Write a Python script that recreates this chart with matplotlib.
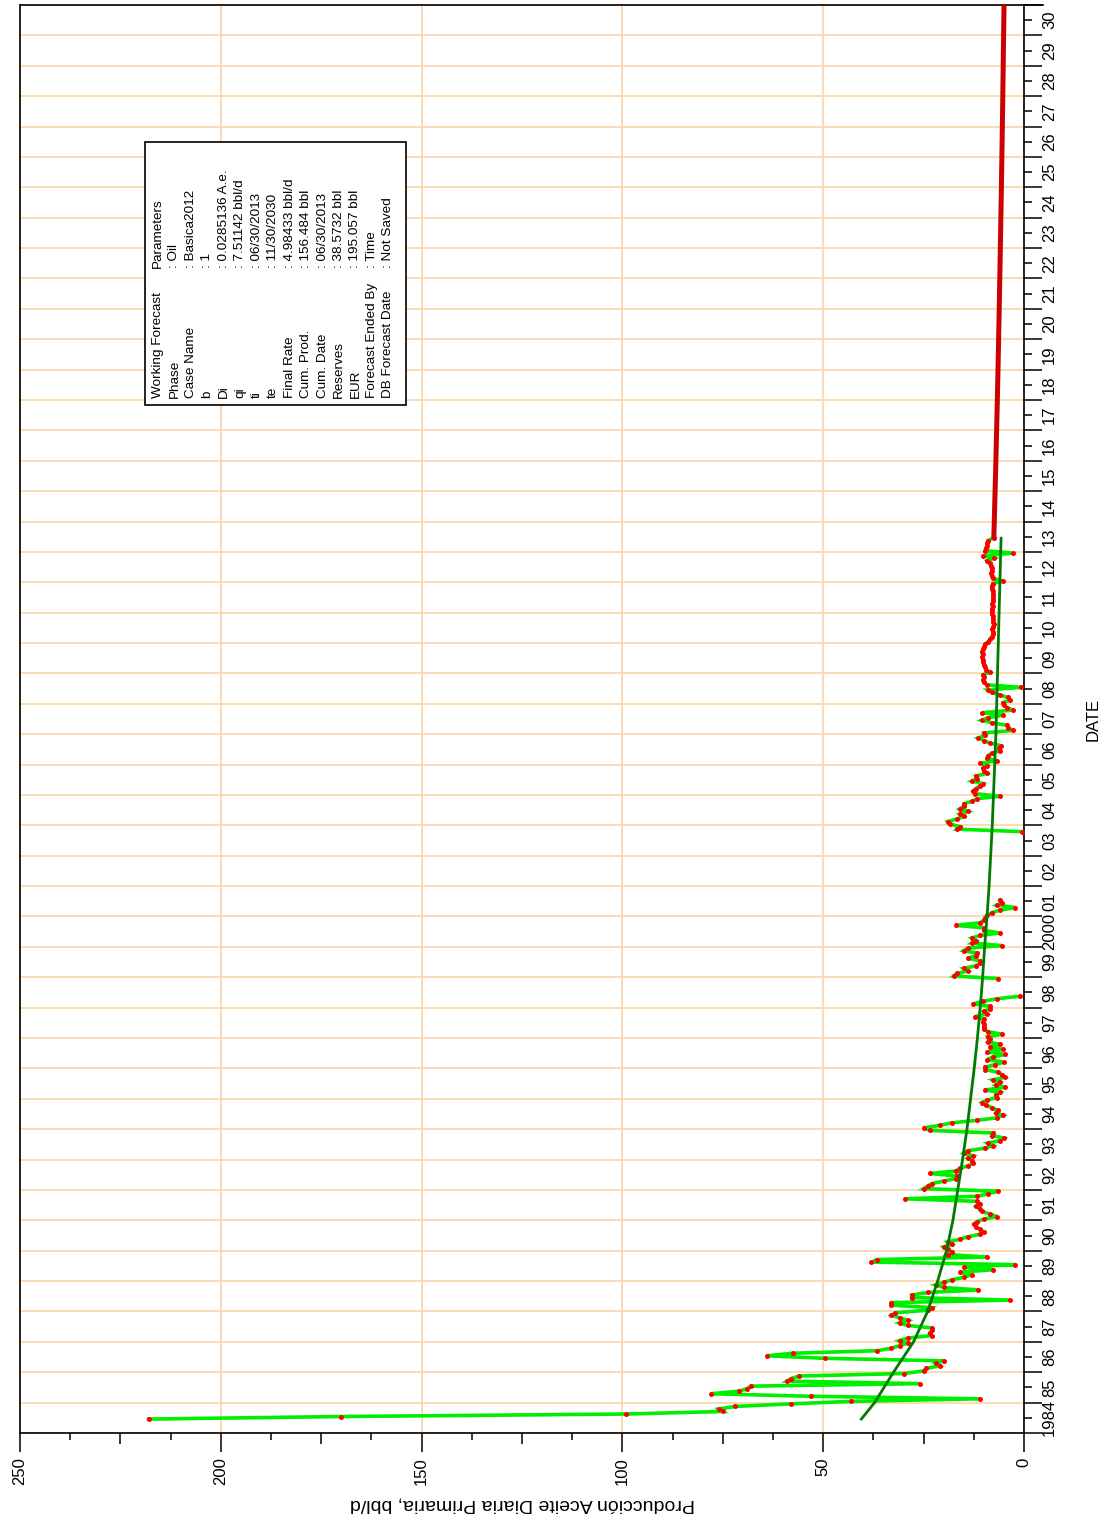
"""Oil rate history, decline fit and forecast (rotated layout, date on the vertical axis)."""
import matplotlib

matplotlib.use("Agg")
import matplotlib.pyplot as plt
import numpy as np
from matplotlib.patches import Rectangle
from matplotlib.ticker import FixedFormatter, FixedLocator, MultipleLocator, NullFormatter

plt.rcParams["font.family"] = ["Liberation Sans", "DejaVu Sans"]

# monthly oil rate, bbl/d, starting June 1984 (None = no data)
FIRST_YEAR, FIRST_MONTH = 1984, 6
oil_rate = [
    218, 170, 99, 75, 76, 72, 58,                                   # 1984 (Jun-Dec)
    43, 11, 53, 78, 71, 69, 68, 26, 59, 58, 56, 30,                 # 1985
    25, 24.4, 21, 22, 20, 49.6, 64, 57.5, 36.6, 33, 31, 29,         # 1986
    31, 29, 23, 23.5, 22.8, 23, 29, 31, 29, 31, 33, 32,             # 1987
    24, 23, 33, 33, 3.5, 28, 28, 24, 11.4, 20, 22, 20,              # 1988
    18, 15, 13, 16, 7.7, 15, 2.2, 38, 36.6, 9.2, 19, 18,            # 1989
    19, 20, 18, 19, 16, 14, 11, 10, 11, 12, 12.5, 11.7,             # 1990
    10, 6.7, 8.5, 10.5, 11, 12, 11, 11.7, 29.6, 11.7, 9, 6.5,       # 1991
    25, 24, 23, 20, 17, 16.7, 23.4, 17, 16, 14, 12.7, 13,           # 1992
    14, 12.7, 15, 14, 9.7, 7.7, 9, 6, 5, 8, 7.7, 23.4,              # 1993
    25, 21, 18, 11.7, 6.7, 5.2, 7, 6.5, 8, 9.5, 10.5, 9.2,          # 1994
    6.7, 7, 6, 9.7, 4.7, 7, 6, 7.7, 4.7, 5.5, 6.5, 9.7,             # 1995
    9.7, 7.2, 5, 9.2, 7.7, 4.7, 9.2, 5.2, 8.5, 6, 9, 8.5,           # 1996
    9, 5.5, 9, 10, 10, 10, 10.2, 10, 12.2, 9.2, 10, 8.5,            # 1997
    8.5, 12.7, 10.2, 6.7, 1, None, None, None, None, None, None, 6.5,  # 1998
    17.5, 16.7, 14, 15, 12, 11, 11, 14, 12, 11.7, 15, 14,           # 1999
    5.5, 13, 12, 13, 11, 6, 10, 10, 17, 11, 10, 9.7,                # 2000
    9.2, 8, 6, 2.2, 6.7, 5.5, 6, None, None, None, None, None,      # 2001
    None, None, None, None, None, None, None, None, None, None, None, None,  # 2002
    None, None, None, None, None, None, None, None, None, 0.5, 16.7, 16,     # 2003
    18.4, 19, 16.7, 15, 16, 14, 16, 15, 15, 13, 11.7, 6,            # 2004
    12.2, 12.7, 12, 11, 10.2, 13, 11.7, 12, 9.2, 10, 10.2, 9.2,     # 2005
    11, 6.7, 9.2, 9, 8, 6, 6.2, 5.8, 8.5, 10, 11.4, 9.7,            # 2006
    10, 2.7, 4, 4.2, 8, 10.5, 9, 5.2, 10.4, 2.7, 4.2, 5,            # 2007
    5.2, 3.5, 4, 6, 8, 9, 0.8, 9.2, 10, 10.2, 10, 10.2,             # 2008
    8.5, 9.5, 9.7, 10, 10.2, 10.2, 10.5, 10.2, 10.5, 10.2, 10, 9.7,  # 2009
    9, 8.5, 8, 7.7, 7.7, 7.9, 7.7, 7.5, 7.7, 7.8, 7.7, 8,           # 2010
    8, 8, 7.8, 8, 7.7, 7.7, 7.6, 7.7, 7.8, 8, 8, 7.8,               # 2011
    5.2, 7.7, 8, 8.2, 8, 8, 8.2, 8.5, 9.2, 7.5, 10.2, 2.7,          # 2012
    9.7, 9.5, 9.2, 9.2, 9, 7.5,                                     # 2013 (Jan-Jun)
]

# decline fit through the history (dark green)
fit_years = [1984.46, 1985, 1986, 1987, 1988, 1989, 1990, 1991, 1992, 1993, 1994,
             1995, 1996, 1997, 1998, 1999, 2000, 2001, 2002, 2003, 2004, 2005,
             2006, 2007, 2008, 2009, 2010, 2011, 2012, 2013, 2013.45]
fit_rate = [40.5, 37.2, 32.5, 27.5, 24.0, 21.5, 19.3, 17.7, 16.5, 15.3, 14.2,
            13.3, 12.4, 11.6, 10.9, 10.3, 9.8, 9.2, 8.7, 8.3, 7.9, 7.6,
            7.3, 7.0, 6.8, 6.6, 6.4, 6.2, 6.0, 5.8, 5.7]

# forecast (red)
forecast_years = [2013.5, 2014, 2015, 2016, 2017, 2018, 2019, 2020, 2021, 2022,
                  2023, 2024, 2025, 2026, 2027, 2028, 2029, 2030, 2030.92]
forecast_rate = [7.51, 7.40, 7.20, 7.00, 6.82, 6.64, 6.47, 6.32, 6.17, 6.03,
                 5.89, 5.76, 5.63, 5.51, 5.39, 5.28, 5.18, 5.08, 4.98]

year_labels = ["1984"] + [f"{y % 100:02d}" for y in range(1985, 2000)] + ["2000"] + \
              [f"{y % 100:02d}" for y in range(2001, 2031)]

legend_keys = ["Working Forecast", "Phase", "Case Name", "b", "Di", "qi", "ti", "te",
               "Final Rate", "Cum. Prod.", "Cum. Date", "Reserves", "EUR",
               "Forecast Ended By", "DB Forecast Date"]
legend_values = ["Parameters", ": Oil", ": Basica2012", ": 1", ": 0.0285136 A.e.",
                 ": 7.51142 bbl/d", ": 06/30/2013", ": 11/30/2030", ": 4.98433 bbl/d",
                 ": 156.484 bbl", ": 06/30/2013", ": 38.5732 bbl", ": 195.057 bbl",
                 ": Time", ": Not Saved"]

W, H = 1118, 1518
fig = plt.figure(figsize=(W / 100, H / 100), dpi=100)
ax = fig.add_axes([20 / W, 85 / H, 1004 / W, 1428 / H])

rate = np.array(oil_rate, dtype=float)
dates = FIRST_YEAR + (FIRST_MONTH - 1 + np.arange(len(rate)) + 0.5) / 12

ax.plot(rate, dates, color="#00ee00", lw=2.6, zorder=3, solid_joinstyle="miter")
ax.plot(rate, dates, ls="none", marker="o", ms=3.6, mfc="#ff0000", mec="#ff0000",
        mew=0, zorder=4)
ax.plot(fit_rate, fit_years, color="#007a00", lw=2.0, zorder=5)
ax.plot(forecast_rate, forecast_years, color="#cc0000", lw=3.6, zorder=5)

ax.set_xlim(250, 0)
ax.set_ylim(1984, 2031)

# production axis (bottom)
ax.xaxis.set_major_locator(MultipleLocator(50))
ax.xaxis.set_minor_locator(MultipleLocator(25))
ax.tick_params(axis="x", which="major", direction="out", length=13.7, width=1.1,
               labelsize=12, labelrotation=90, pad=4)
ax.tick_params(axis="x", which="minor", direction="out", length=8, width=1.1)
sec = ax.twiny()
sec.set_xlim(ax.get_xlim())
sec.xaxis.set_ticks_position("bottom")
sec.xaxis.set_major_locator(FixedLocator(np.arange(12.5, 250, 25)))
sec.tick_params(axis="x", direction="out", length=5, width=1.1,
                labelbottom=False, labeltop=False)
for s in sec.spines.values():
    s.set_visible(False)

# date axis (right)
ax.yaxis.tick_right()
ax.yaxis.set_major_locator(FixedLocator(np.arange(1984, 2032)))
ax.yaxis.set_major_formatter(NullFormatter())
ax.yaxis.set_minor_locator(FixedLocator(np.arange(1984, 2031) + 0.5))
ax.yaxis.set_minor_formatter(FixedFormatter(year_labels))
ax.tick_params(axis="y", which="major", direction="out", length=12.7, width=1.1,
               left=False, right=True)
ax.tick_params(axis="y", which="minor", direction="out", length=6, width=1.1,
               left=False, right=True, labelsize=12, labelrotation=90, pad=7)
plt.setp(ax.yaxis.get_minorticklabels(), va="center")

ax.grid(True, which="major", color="#f9d8ae", lw=1.3)
ax.set_axisbelow(True)
for s in ax.spines.values():
    s.set_linewidth(1.2)
ax.plot([1, 1.0185], [1, 1], transform=ax.transAxes, color="black", lw=1.2,
        clip_on=False)

ax.set_xlabel("Producción Aceite Diaria Primaria, bbl/d", fontsize=14, rotation=180)
ax.xaxis.set_label_coords(0.5, -0.0497)
ax.xaxis.label.set_va("center")
ax.yaxis.set_label_position("right")
ax.set_ylabel("DATE", fontsize=12, rotation=90)
ax.yaxis.set_label_coords(1.0687, 0.5)
ax.yaxis.label.set_va("center")
ax.yaxis.label.set_ha("center")

# forecast parameter box
ax.add_patch(Rectangle((0.1245, 0.7199), 0.26, 0.1841, transform=ax.transAxes,
                       facecolor="white", edgecolor="black", lw=1.2, zorder=6))
for i, (key, val) in enumerate(zip(legend_keys, legend_values)):
    x = (158 + 16.45 * i - 20) / 1004
    ax.text(x, 0.7248, key, transform=ax.transAxes, rotation=90, fontsize=9.7,
            ha="center", va="bottom", zorder=7)
    ax.text(x, 0.8158, val, transform=ax.transAxes, rotation=90, fontsize=9.7,
            ha="center", va="bottom", zorder=7)

fig.savefig("out.png", dpi=100, facecolor="white")
